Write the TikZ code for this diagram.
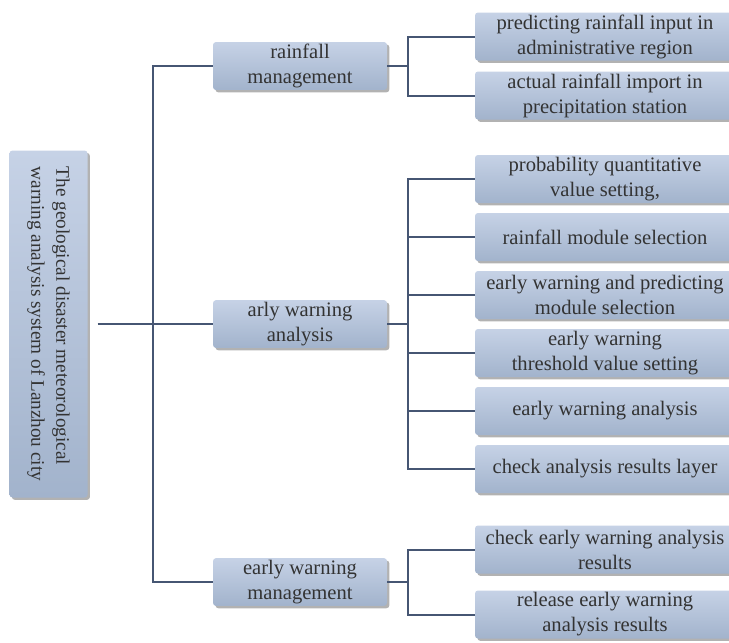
\documentclass[tikz,border=0pt]{standalone}
\usepackage{fontspec}
\setmainfont{Liberation Serif}
\usepackage{tikz}
\usetikzlibrary{shadows}

\definecolor{boxtop}{HTML}{C6D2E6}
\definecolor{boxbottom}{HTML}{A2B3CC}
\definecolor{wire}{HTML}{465673}
\definecolor{inktext}{HTML}{333333}

\begin{document}
\begin{tikzpicture}
            [grow'=right,
            every node/.style={rectangle, align=center, rounded corners=1.5pt,
                top color=boxtop, bottom color=boxbottom, text=inktext,
                font=\fontsize{10.3}{12.5}\selectfont, inner sep=1pt,
                drop shadow={shadow xshift=1.2pt, shadow yshift=-1.2pt, fill=black!60}},
            edge from parent/.style={draw=wire, line width=1pt},
            level 1/.style={level distance=125.75pt, sibling distance=129pt,
                edge from parent path={(\tikzparentnode.north) ++(5pt,0) -- ++(27.5pt,0)
                    |- (\tikzchildnode.west)}},
            level 2/.style={level distance=152.5pt, sibling distance=29pt,
                edge from parent path={(\tikzparentnode.east) -- ++(10.5pt,0)
                    |- (\tikzchildnode.west)}},
            topic/.style={minimum width=87pt, minimum height=23.5pt},
            task/.style={minimum width=130pt, minimum height=24pt}]

            \path[use as bounding box, clip] (0,0) rectangle (364.5pt,-321.5pt);

            \node[rotate=-90, align=left, minimum width=173.5pt, minimum height=39pt,
                font=\fontsize{9.6}{12.5}\selectfont] (lanzhou)
                at (24.25pt,-162pt)
                {The geological disaster meteorological\\warning analysis system of Lanzhou city}
            child[level 2/.append style={sibling distance=29.5pt}] {
                node[topic] (rainmgmt) {rainfall\\management}
                child {node[task] (forecastin) {predicting rainfall input in\\administrative region}}
                child {node[task] (actualin) {actual rainfall import in\\precipitation station}}
            }
            child {
                node[topic] (warnanalysis) {arly warning\\analysis}
                child {node[task] (probset) {probability quantitative\\value setting,}}
                child {node[task] (rainmod) {rainfall module selection}}
                child {node[task] (predmod) {early warning and predicting\\module selection}}
                child {node[task] (threshold) {early warning\\threshold value setting}}
                child {node[task] (analysis) {early warning analysis}}
                child {node[task] (checklayer) {check analysis results layer}}
            }
            child[level 2/.append style={sibling distance=32.5pt}] {
                node[topic] (warnmgmt) {early warning\\management}
                child {node[task] (checkres) {check early warning analysis\\results}}
                child {node[task] (release) {release early warning\\analysis results}}
            };
        \end{tikzpicture}
\end{document}
